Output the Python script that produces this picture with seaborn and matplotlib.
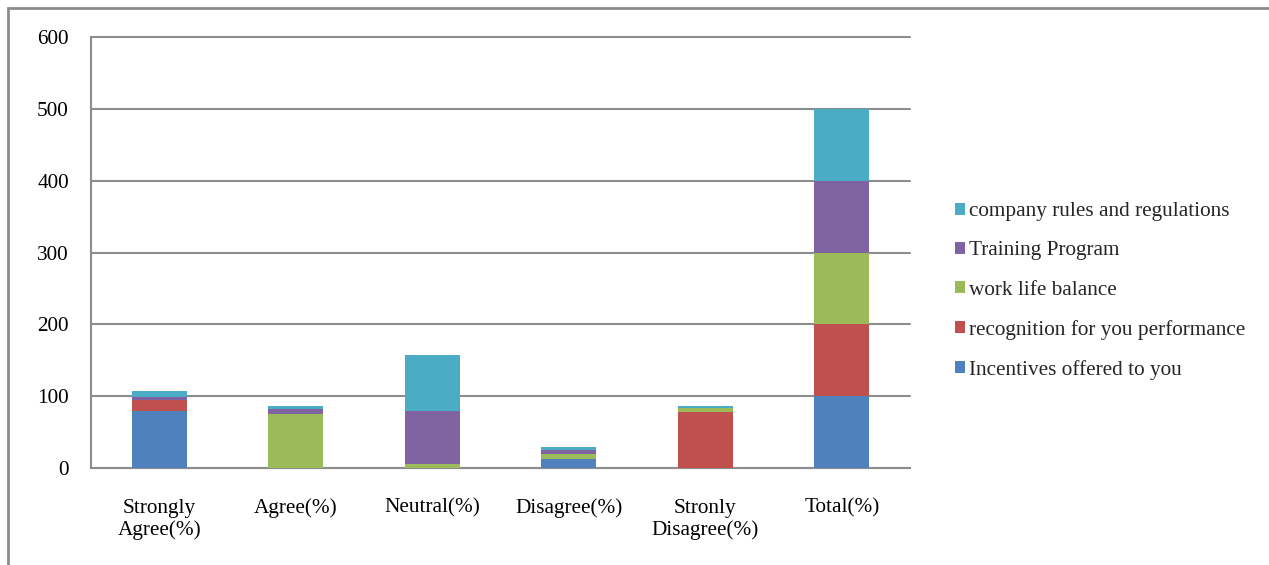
import matplotlib
matplotlib.use("Agg")
import matplotlib.pyplot as plt
from matplotlib.patches import Patch, Rectangle
import seaborn as sns
import numpy as np

categories = ["Strongly\nAgree(%)", "Agree(%)", "Neutral(%)", "Disagree(%)",
              "Stronly\nDisagree(%)", "Total(%)"]

incentives = [79, 0, 0, 13, 0, 100]
recognition = [15, 0, 0, 0, 78, 100]
work_life = [1, 75, 5, 7, 6, 100]
training = [4, 7, 75, 5, 0, 100]
company_rules = [8, 4, 77, 4, 3, 100]

series_names = ["Incentives offered to you", "recognition for you performance",
                "work life balance", "Training Program", "company rules and regulations"]
series_values = [incentives, recognition, work_life, training, company_rules]
colors = ["#4F81BD", "#C0504D", "#9BBB59", "#8064A2", "#4BACC6"]

sns.set_theme(style="white")
plt.rcParams["font.family"] = ["Liberation Serif", "DejaVu Serif"]

FS = 15.3

fig = plt.figure(figsize=(12.69, 5.65), dpi=100)
ax = fig.add_axes([91 / 1269, 1 - 468 / 565, (910 - 91) / 1269, (468 - 37) / 565])

bottom = np.zeros(len(categories))
for name, vals, col in zip(series_names, series_values, colors):
    vals = np.array(vals, dtype=float)
    sns.barplot(x=categories, y=vals, bottom=bottom, color=col, width=0.4,
                saturation=1, ax=ax, zorder=3, edgecolor="none", linewidth=0)
    bottom += vals

ax.set_ylim(0, 600)
ax.set_xlim(-0.5, 5.5)
ax.set_yticks(range(0, 601, 100))
ax.yaxis.grid(True, color="#8c8c8c", linewidth=1.5, zorder=0)
for gl in ax.get_ygridlines():
    gl.set_clip_on(False)
ax.set_axisbelow(True)
for side in ["top", "right"]:
    ax.spines[side].set_visible(False)
for side in ["left", "bottom"]:
    ax.spines[side].set_color("#8c8c8c")
    ax.spines[side].set_linewidth(1.5)
ax.tick_params(axis="y", length=0, pad=16, labelsize=FS, colors="black")
ax.tick_params(axis="x", length=0, pad=22, labelsize=FS, colors="black")
for lbl in ax.get_xticklabels():
    lbl.set_linespacing(1.2)
ax.set_xlabel("")
ax.set_ylabel("")

handles = [Patch(facecolor=c, edgecolor="none") for c in colors]
leg = fig.legend(handles[::-1], series_names[::-1], loc="center left",
                 bbox_to_anchor=(946 / 1269, 1 - 291 / 565), frameon=False,
                 fontsize=FS, handlelength=0.5, handleheight=0.5,
                 handletextpad=0.2, labelspacing=0.95, borderaxespad=0)

fig.patches.append(Rectangle((8 / 1269, -0.01), 1.02, 1 - 8 / 565 + 0.01,
                             transform=fig.transFigure, fill=False,
                             edgecolor="#8c8c8c", linewidth=2))

fig.savefig("out.png", dpi=100)
